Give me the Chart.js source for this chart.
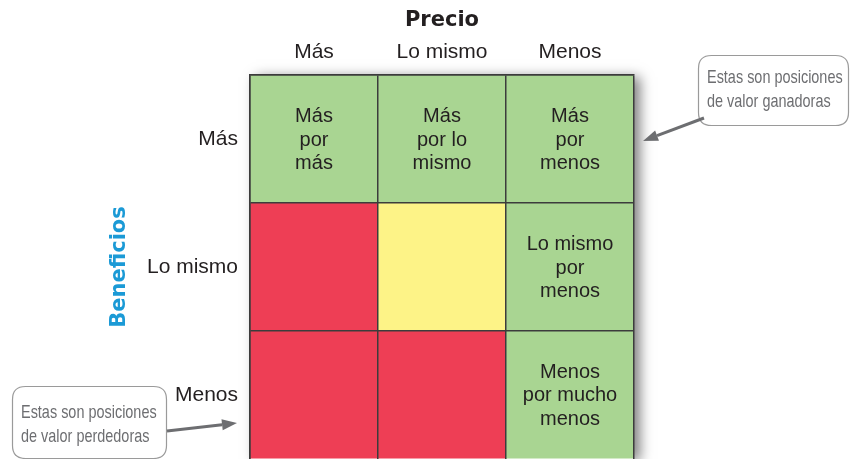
<!DOCTYPE html>
<html>
<head>
<meta charset="utf-8">
<script src="https://cdn.jsdelivr.net/npm/chart.js@4.4.0/dist/chart.umd.min.js"></script>
<style>
  body { margin: 0; background: #fff; }
  #wrap { width: 850px; height: 459px; }
</style>
</head>
<body>
<div id="wrap"><canvas id="matrix" width="850" height="459"></canvas></div>
<script>
// Precio across the top, Beneficios down the side (top row first)
const priceLabels = ['Más', 'Lo mismo', 'Menos'];
const benefitLabels = ['Más', 'Lo mismo', 'Menos'];
// each cell is one unit tall
const cellValues = [1, 1, 1];

const GREEN = '#a9d592', RED = '#ee3e55', YELLOW = '#fdf387';
const rowColors = [
  [GREEN, GREEN, GREEN],
  [RED, YELLOW, GREEN],
  [RED, RED, GREEN]
];
const rowTexts = [
  ['Más\npor\nmás', 'Más\npor lo\nmismo', 'Más\npor\nmenos'],
  ['', '', 'Lo mismo\npor\nmenos'],
  ['', '', 'Menos\npor mucho\nmenos']
];
const calloutWin = ['Estas son posiciones', 'de valor ganadoras'];
const calloutLose = ['Estas son posiciones', 'de valor perdedoras'];

const LINE = '#3c3c3c';
const TEXT = '#231f20';
const HEAVY = '"DejaVu Sans", Inter, sans-serif';
const PLAIN = '"Liberation Sans", Arial, sans-serif';

// stacked bars go bottom-up, so reverse the rows
const datasets = benefitLabels.map((_, i) => {
  const r = benefitLabels.length - 1 - i;
  return {
    label: benefitLabels[r],
    data: cellValues.slice(),
    backgroundColor: rowColors[r],
    borderWidth: 0,
    rowIndex: r
  };
});

const shadowPlugin = {
  id: 'shadow',
  beforeDatasetsDraw(chart) {
    const { ctx, chartArea: a } = chart;
    ctx.save();
    ctx.shadowColor = 'rgba(0,0,0,0.5)';
    ctx.shadowBlur = 12;
    ctx.shadowOffsetX = 6;
    ctx.shadowOffsetY = 2;
    ctx.fillStyle = '#fff';
    ctx.fillRect(a.left, a.top, a.right - a.left, a.bottom - a.top);
    ctx.restore();
  }
};

const cellTextPlugin = {
  id: 'cellText',
  afterDatasetsDraw(chart) {
    const ctx = chart.ctx;
    ctx.save();
    ctx.fillStyle = TEXT;
    ctx.font = '20px ' + PLAIN;
    ctx.textAlign = 'center';
    ctx.textBaseline = 'middle';
    chart.data.datasets.forEach((ds, di) => {
      chart.getDatasetMeta(di).data.forEach((bar, ci) => {
        const txt = rowTexts[ds.rowIndex][ci];
        if (!txt) return;
        const lines = txt.split('\n');
        const lh = 23.5;
        const cy = (bar.y + bar.base) / 2 + 1;
        lines.forEach((ln, k) => {
          ctx.fillText(ln, bar.x, cy + (k - (lines.length - 1) / 2) * lh);
        });
      });
    });
    ctx.restore();
  }
};

function roundRect(ctx, x, y, w, h, r) {
  ctx.beginPath();
  ctx.moveTo(x + r, y);
  ctx.lineTo(x + w - r, y);
  ctx.quadraticCurveTo(x + w, y, x + w, y + r);
  ctx.lineTo(x + w, y + h - r);
  ctx.quadraticCurveTo(x + w, y + h, x + w - r, y + h);
  ctx.lineTo(x + r, y + h);
  ctx.quadraticCurveTo(x, y + h, x, y + h - r);
  ctx.lineTo(x, y + r);
  ctx.quadraticCurveTo(x, y, x + r, y);
  ctx.closePath();
}

function arrow(ctx, x1, y1, x2, y2) {
  const ang = Math.atan2(y2 - y1, x2 - x1);
  const len = 15, half = 5.5;
  const bx = x2 - len * Math.cos(ang), by = y2 - len * Math.sin(ang);
  ctx.beginPath();
  ctx.moveTo(x1, y1);
  ctx.lineTo(bx, by);
  ctx.stroke();
  ctx.beginPath();
  ctx.moveTo(x2, y2);
  ctx.lineTo(bx + half * Math.sin(ang), by - half * Math.cos(ang));
  ctx.lineTo(bx - half * Math.sin(ang), by + half * Math.cos(ang));
  ctx.closePath();
  ctx.fill();
}

// condensed look: squeeze regular text horizontally
function narrowText(ctx, txt, x, y) {
  ctx.save();
  ctx.translate(x, y);
  ctx.scale(0.76, 1);
  ctx.fillText(txt, 0, 0);
  ctx.restore();
}

const calloutPlugin = {
  id: 'callouts',
  afterDraw(chart) {
    const { ctx, chartArea: a } = chart;
    ctx.save();
    ctx.strokeStyle = '#9a9a9a';
    ctx.lineWidth = 1.2;
    ctx.fillStyle = '#fff';
    roundRect(ctx, 698.5, 55.5, 150, 70, 13);
    ctx.fill(); ctx.stroke();
    roundRect(ctx, 12.5, 386.5, 154, 72, 13);
    ctx.fill(); ctx.stroke();

    ctx.fillStyle = '#6d6e71';
    ctx.font = '19px ' + PLAIN;
    ctx.textAlign = 'left';
    ctx.textBaseline = 'alphabetic';
    narrowText(ctx, calloutWin[0], 707, 83);
    narrowText(ctx, calloutWin[1], 707, 107);
    narrowText(ctx, calloutLose[0], 21, 418);
    narrowText(ctx, calloutLose[1], 21, 442);

    ctx.strokeStyle = '#6d6e71';
    ctx.lineWidth = 3;
    arrow(ctx, 704, 118, a.right + 9, 141);
    arrow(ctx, 167, 431, a.left - 13, 423);
    ctx.restore();
  }
};

new Chart(document.getElementById('matrix'), {
  type: 'bar',
  data: { labels: priceLabels, datasets: datasets },
  plugins: [shadowPlugin, cellTextPlugin, calloutPlugin],
  options: {
    responsive: false,
    animation: false,
    layout: { padding: { left: 0, right: 216, top: 0, bottom: 0 } },
    datasets: { bar: { barPercentage: 1, categoryPercentage: 1 } },
    plugins: {
      legend: { display: false },
      tooltip: { enabled: false },
      title: {
        display: true,
        text: 'Precio',
        fullSize: false,
        color: TEXT,
        font: { family: HEAVY, size: 21, weight: 'bold' },
        padding: { top: 8, bottom: 0 }
      }
    },
    scales: {
      x: {
        position: 'top',
        stacked: true,
        grid: { offset: true, drawTicks: false, color: LINE, lineWidth: 1.5, z: 1 },
        border: { display: true, color: LINE, width: 1.5, z: 1 },
        ticks: { color: TEXT, padding: 10, font: { family: PLAIN, size: 21 } },
        afterFit(scale) {
          scale.height = 75 - (21 * 1.2 + 8);
          scale.paddingLeft = 0; scale.paddingRight = 0;
        }
      },
      y: {
        stacked: true,
        min: 0,
        max: 3,
        grid: {
          drawTicks: false,
          lineWidth: 1.5,
          z: 1,
          color: c => (Number.isInteger(c.tick.value) && c.tick.value > 0) ? LINE : 'rgba(0,0,0,0)'
        },
        border: { display: true, color: LINE, width: 1.5, z: 1 },
        ticks: {
          stepSize: 0.5,
          padding: 12,
          color: TEXT,
          font: { family: PLAIN, size: 21 },
          callback: v => Number.isInteger(v) ? '' : benefitLabels[2 - Math.floor(v)]
        },
        title: {
          display: true,
          text: 'Beneficios',
          color: '#1b9ad6',
          font: { family: HEAVY, size: 21, weight: 'bold' },
          padding: { top: 107, bottom: 0 }
        },
        afterFit(scale) {
          scale.width = 250;
          scale.paddingTop = 0; scale.paddingBottom = 0;
        }
      }
    }
  }
});
</script>
</body>
</html>
